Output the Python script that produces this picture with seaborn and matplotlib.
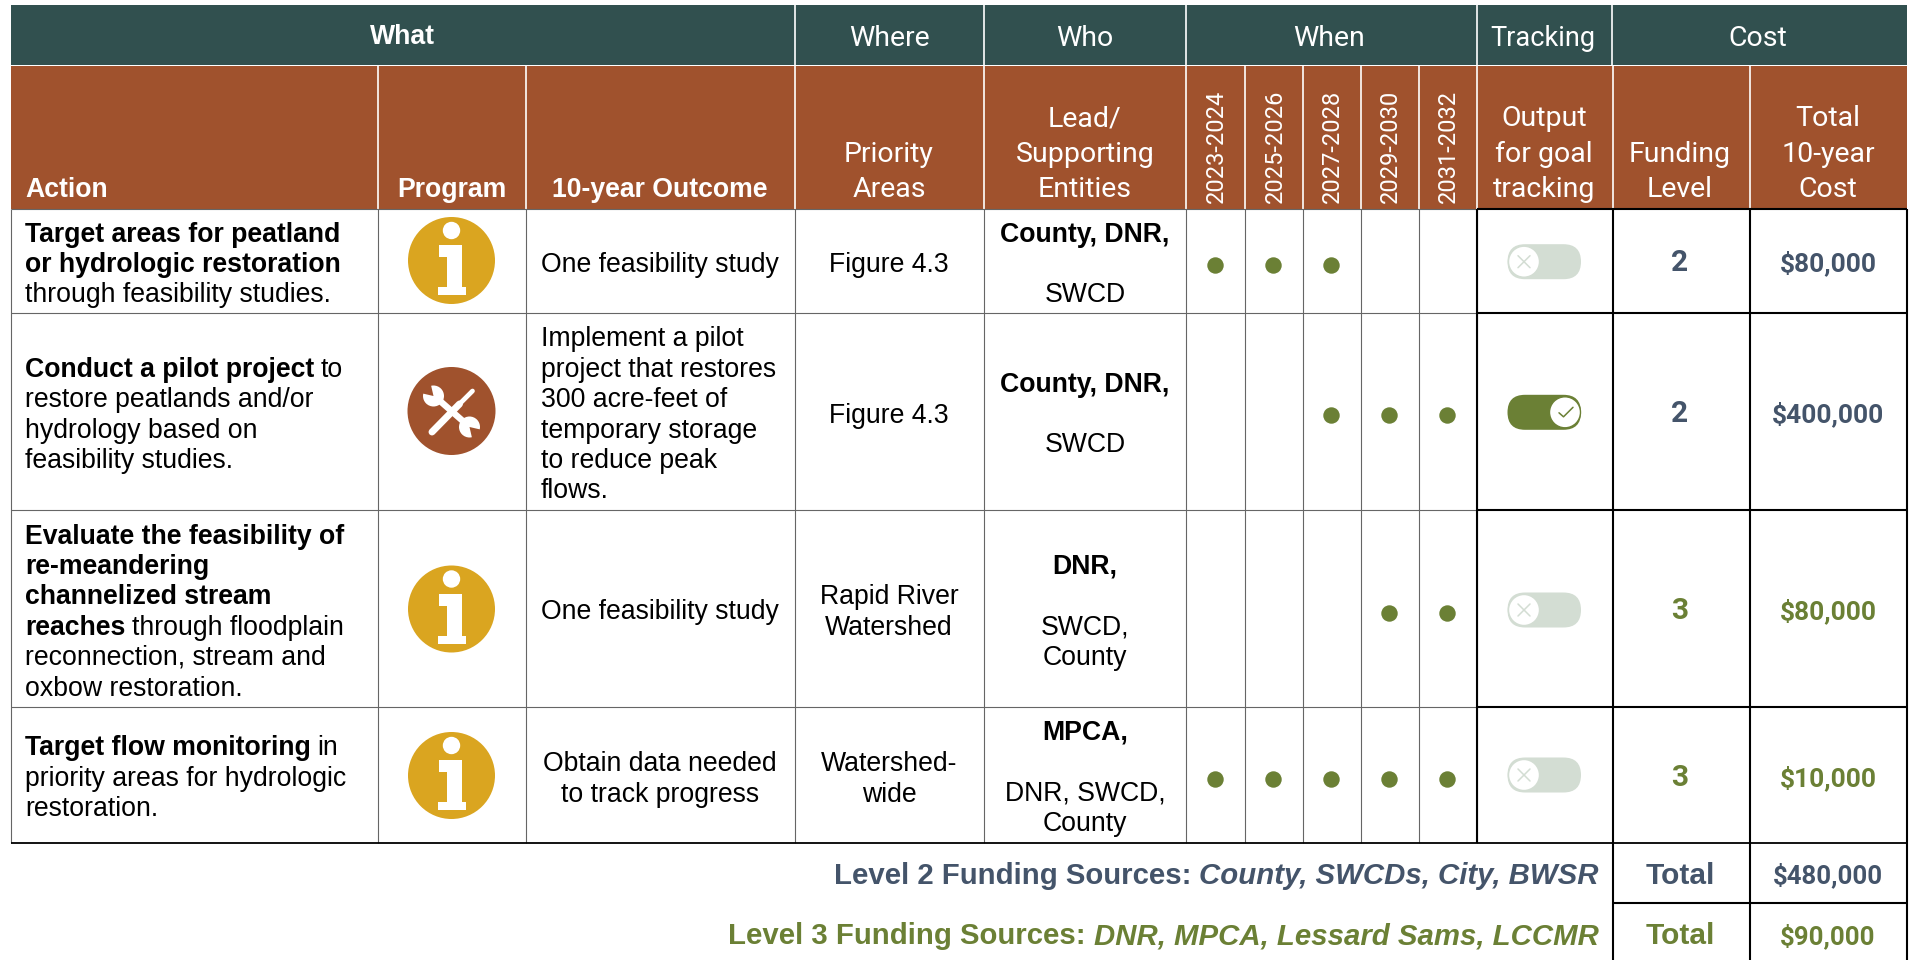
import pandas as pd
import seaborn as sns
import matplotlib.pyplot as plt
from matplotlib.patches import Rectangle, Circle, Wedge, Polygon, FancyBboxPatch

# Datos de la tabla
periods = ["2023-2024", "2025-2026", "2027-2028", "2029-2030", "2031-2032"]
schedule = [[1, 1, 1, 0, 0],
            [0, 0, 1, 1, 1],
            [0, 0, 0, 1, 1],
            [1, 1, 1, 1, 1]]
programs = ["info", "tools", "info", "info"]
tracking = [False, True, False, False]
levels = ["2", "2", "3", "3"]
costs = ["$80,000", "$400,000", "$80,000", "$10,000"]
outcomes = [["One feasibility study"],
            ["Implement a pilot", "project that restores", "300 acre-feet of",
             "temporary storage", "to reduce peak", "flows."],
            ["One feasibility study"],
            ["Obtain data needed", "to track progress"]]
areas = [["Figure 4.3"], ["Figure 4.3"], ["Rapid River", "Watershed"], ["Watershed-", "wide"]]
actions = [[[("Target areas for peatland", True)],
            [("or hydrologic restoration", True)],
            [("through feasibility studies.", False)]],
           [[("Conduct a pilot project", True), ("to", False)],
            [("restore peatlands and/or", False)],
            [("hydrology based on", False)],
            [("feasibility studies.", False)]],
           [[("Evaluate the feasibility of", True)],
            [("re-meandering", True)],
            [("channelized stream", True)],
            [("reaches", True), ("through floodplain", False)],
            [("reconnection, stream and", False)],
            [("oxbow restoration.", False)]],
           [[("Target flow monitoring", True), ("in", False)],
            [("priority areas for hydrologic", False)],
            [("restoration.", False)]]]
who_lead = ["County, DNR,", "County, DNR,", "DNR,", "MPCA,"]
who_support = [["SWCD"], ["SWCD"], ["SWCD,", "County"], ["DNR, SWCD,", "County"]]
fund_labels = ["Level 2 Funding Sources:", "Level 3 Funding Sources:"]
fund_sources = ["County, SWCDs, City, BWSR", "DNR, MPCA, Lessard Sams, LCCMR"]
fund_totals = ["$480,000", "$90,000"]

# Colores
TEAL = "#31504F"
BROWN = "#A0522D"
GOLD = "#DAA520"
GREEN = "#6B8035"
SLATE = "#44546A"
OFF = "#D3DDD3"
GRID = "#666666"

# Posiciones en pixeles
col_x = [11, 378, 525.5, 795, 984, 1186, 1244.5, 1303, 1361, 1419, 1476.5, 1613, 1750, 1907]
row_y = [209, 313, 510, 707, 843]
dot_x = [1214.8, 1273, 1330.5, 1389, 1446.5]
dot_y = [264.5, 415, 612.6, 778.7]
icon_y = [260.5, 411, 609, 775.5]
toggle_y = [261.7, 412.3, 610, 775]
level_y = [263, 414, 611, 778]
action_y = [[234.5, 265, 295.4], [369.7, 400, 430.6, 461],
            [536.5, 567, 597.4, 627.8, 658, 688.7], [748.3, 778.8, 809.2]]
outcome_y = [[265], [339, 369.7, 400, 430.6, 461, 491.4], [612], [764, 794.6]]
area_y = [[265], [416], [597.4, 627.8], [764, 794.6]]
lead_y = [234.5, 385.5, 567, 732.5]
support_y = [[295.4], [445], [627.8, 658], [793, 824]]

sns.set_theme(style="white")
plt.rcParams['font.family'] = ['Liberation Sans', 'DejaVu Sans']
DIN = ['Roboto', 'DejaVu Sans']
BODY = 19.2

fig = plt.figure(figsize=(19.09, 9.6), dpi=100)
ax = fig.add_axes([0, 0, 1, 1])
ax.set_xlim(0, 1909)
ax.set_ylim(960, 0)
ax.axis("off")


def vline(x, y0, y1, color=GRID, lw=0.8):
    ax.plot([x, x], [y0, y1], color=color, lw=lw, solid_capstyle="butt", zorder=3)


def hline(y, x0, x1, color=GRID, lw=0.8):
    ax.plot([x0, x1], [y, y], color=color, lw=lw, solid_capstyle="butt", zorder=3)


def centered(x, y, s, size=BODY, **kw):
    ax.text(x, y, s, ha="center", va="center", fontsize=size, zorder=5, **kw)


# Encabezados
ax.add_patch(Rectangle((11, 5), 1896, 60, color=TEAL, lw=0))
ax.add_patch(Rectangle((11, 66), 1896, 143, color=BROWN, lw=0))
for x in [795, 984, 1186, 1476.5, 1611.5]:
    vline(x, 5, 66, "white", 1.2)
for x in col_x[1:-1]:
    vline(x, 66, 209, "white", 1.2)

centered(402, 37, "What", size=19.2, color="white", fontweight="bold")
for x, s, fs in [(889, "Where", 20.5), (1085, "Who", 20.5), (1329, "When", 20.5),
                 (1543, "Tracking", 19.5), (1758, "Cost", 20.5)]:
    centered(x, 38, s, size=fs, color="white", family=DIN)

ax.text(25, 197, "Action", fontsize=19.2, color="white", fontweight="bold", va="baseline", zorder=5)
ax.text(452, 197, "Program", fontsize=19.2, color="white", fontweight="bold", ha="center", va="baseline", zorder=5)
ax.text(660, 197, "10-year Outcome", fontsize=19.2, color="white", fontweight="bold", ha="center", va="baseline", zorder=5)

head_lines = [(889, ["Priority", "Areas"]), (1085, ["Lead/", "Supporting", "Entities"]),
              (1544, ["Output", "for goal", "tracking"]), (1680, ["Funding", "Level"]),
              (1828, ["Total", "10-year", "Cost"])]
for x, lines in head_lines:
    for y, s in zip([119, 154, 189.5][-len(lines):], lines):
        centered(x, y, s, size=20.5, color="white", family=DIN)

for x, s in zip([1216.5, 1275, 1332.5, 1390, 1448.5], periods):
    ax.text(x, 203, s, rotation=90, ha="center", va="bottom", color="white", fontsize=17, family=DIN, zorder=5)

# Rejilla
for x in col_x[:11]:
    vline(x, 209, 843)
for y in row_y[1:4]:
    hline(y, 11, 1476.5)
hline(209, 11, 1476.5)
hline(843, 11, 1907, "black", 1.3)
for x in [1476.5, 1613, 1750]:
    vline(x, 209, 843, "black", 1.5)
vline(1907, 209, 960, "black", 1.5)
vline(1613, 843, 960, "black", 1.5)
vline(1750, 843, 960, "black", 1.5)
for y in row_y[:4]:
    hline(y, 1476.5, 1907, "black", 1.5)
hline(903, 1613, 1907, "black", 1.5)


def draw_info(cy):
    cx = 451.5
    ax.add_patch(Circle((cx, cy), 43.5, color=GOLD, lw=0, zorder=4))
    ax.add_patch(Circle((cx, cy - 30), 8.7, color="white", lw=0, zorder=5))
    stem = [(-13, -15.5), (10, -15.5), (10, 26.5), (14, 26.5), (14, 34.5), (-14, 34.5),
            (-14, 26.5), (-5, 26.5), (-5, -3.5), (-13, -3.5)]
    ax.add_patch(Polygon([(cx + a, cy + b) for a, b in stem], color="white", lw=0, zorder=5))


def draw_tools(cy):
    cx = 451.5
    ax.add_patch(Circle((cx, cy), 44, color=BROWN, lw=0, zorder=4))
    # destornillador
    ax.plot([cx - 19.5, cx + 8], [cy + 21, cy - 7], color="white", lw=5, solid_capstyle="round", zorder=5)
    ax.plot([cx + 8, cx + 21], [cy - 7, cy - 20], color="white", lw=3.4, solid_capstyle="round", zorder=5)
    # llave
    ax.plot([cx - 16, cx + 17], [cy - 14, cy + 15], color="white", lw=4.6, solid_capstyle="butt", zorder=5)
    for hx, hy, ang in [(-18, -15, 225), (18, 16, 45)]:
        ax.add_patch(Circle((cx + hx, cy + hy), 10.5, color="white", lw=0, zorder=5))
        ax.add_patch(Wedge((cx + hx, cy + hy), 12, ang - 32, ang + 32, color=BROWN, lw=0, zorder=6))


def draw_toggle(cy, on):
    x0, w, h = 1507.5, 73.5, 35
    fill = GREEN if on else OFF
    ax.add_patch(FancyBboxPatch((x0, cy - h / 2), w, h, boxstyle="round,pad=0,rounding_size=17.5",
                                fc=fill, ec="none", zorder=4))
    kx = x0 + 57.5 if on else x0 + 16.5
    ax.add_patch(Circle((kx, cy), 15.5, fc="white", ec=fill, lw=1, zorder=5))
    if on:
        ax.plot([kx - 6, kx - 1.5, kx + 8], [cy + 0.5, cy + 4.5, cy - 5], color=GREEN, lw=1.1, zorder=6)
    else:
        ax.plot([kx - 6, kx + 6], [cy - 6, cy + 6], color=OFF, lw=1.1, zorder=6)
        ax.plot([kx - 6, kx + 6], [cy + 6, cy - 6], color=OFF, lw=1.1, zorder=6)


def mixed_line(x, y, pieces):
    renderer = fig.canvas.get_renderer()
    for s, bold in pieces:
        t = ax.text(x, y, s, fontsize=BODY, fontweight="bold" if bold else "normal",
                    color="black", va="center", zorder=5)
        x = t.get_window_extent(renderer).x1 + 6.5


# Filas
for i in range(4):
    for y, pieces in zip(action_y[i], actions[i]):
        mixed_line(25, y, pieces)
    if programs[i] == "info":
        draw_info(icon_y[i])
    else:
        draw_tools(icon_y[i])
    for y, s in zip(outcome_y[i], outcomes[i]):
        if len(outcomes[i]) > 2:
            ax.text(541, y, s, fontsize=BODY, va="center", color="black", zorder=5)
        else:
            centered(660, y, s, color="black")
    for y, s in zip(area_y[i], areas[i]):
        centered(889, y, s, color="black")
    centered(1085, lead_y[i], who_lead[i], color="black", fontweight="bold")
    for y, s in zip(support_y[i], who_support[i]):
        centered(1085, y, s, color="black")
    draw_toggle(toggle_y[i], tracking[i])
    color = SLATE if levels[i] == "2" else GREEN
    centered(1680, level_y[i], levels[i], size=21.5, color=color, fontweight="bold", family=DIN)
    centered(1828, level_y[i], costs[i], size=19, color=color, fontweight="bold", family=DIN)

# Puntos del cronograma
dots = pd.DataFrame([{"x": dot_x[j], "y": dot_y[i]}
                     for i, row in enumerate(schedule)
                     for j, v in enumerate(row) if v])
sns.scatterplot(data=dots, x="x", y="y", ax=ax, color=GREEN, s=140, linewidth=0, zorder=5, legend=False)
ax.set_xlim(0, 1909)
ax.set_ylim(960, 0)

# Totales
for i, y in enumerate([875.5, 936.5]):
    color = SLATE if i == 0 else GREEN
    ax.text(1598.5, y, fund_sources[i], ha="right", va="center", fontsize=21.2, color=color,
            fontweight="bold", fontstyle="italic", zorder=5)
    t = ax.texts[-1]
    left = t.get_window_extent(fig.canvas.get_renderer()).x0
    ax.text(left - 8, y, fund_labels[i], ha="right", va="center", fontsize=21.2, color=color,
            fontweight="bold", zorder=5)
    centered(1680, y, "Total", size=21.5, color=color, fontweight="bold")
    centered(1828, y, fund_totals[i], size=18.5, color=color, fontweight="bold", family=DIN)

fig.savefig("out.png", dpi=100, facecolor="white")
